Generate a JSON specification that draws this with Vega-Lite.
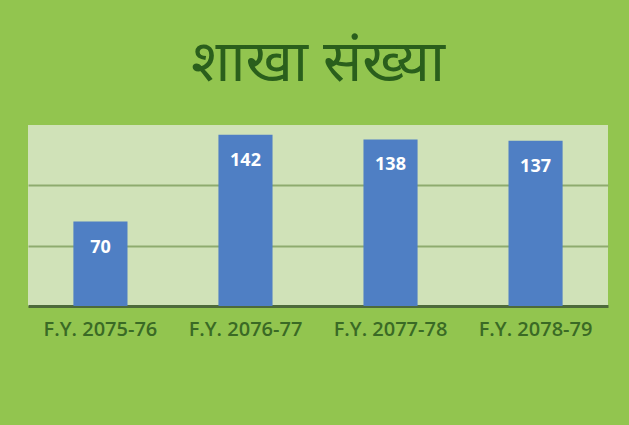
{
  "$schema": "https://vega.github.io/schema/vega-lite/v6.json",
  "autosize": {"type": "none"},
  "width": 580,
  "height": 181,
  "padding": {"left": 28, "top": 125, "right": 21, "bottom": 119},
  "background": "#92c54f",
  "title": {
    "text": "शाखा संख्या",
    "fontSize": 58,
    "font": "Noto Sans",
    "fontWeight": "normal",
    "color": "#2a5f1c",
    "anchor": "middle",
    "offset": 32
  },
  "config": {
    "view": {"fill": "#d0e2b8", "stroke": null}
  },
  "data": {
    "values": [
      {"year": "F.Y. 2075-76", "count": 70},
      {"year": "F.Y. 2076-77", "count": 142},
      {"year": "F.Y. 2077-78", "count": 138},
      {"year": "F.Y. 2078-79", "count": 137}
    ]
  },
  "encoding": {
    "x": {
      "field": "year",
      "type": "nominal",
      "sort": null,
      "scale": {"paddingInner": 0.627, "paddingOuter": 0.313},
      "axis": {
        "title": null,
        "labelAngle": 0,
        "labelFontSize": 20,
        "labelFont": "Open Sans",
        "labelFontWeight": 600,
        "labelColor": "#3a6a25",
        "labelPadding": 13,
        "ticks": false,
        "domainColor": "#4d6a3a",
        "domainWidth": 3
      }
    },
    "y": {
      "field": "count",
      "type": "quantitative",
      "scale": {"domain": [0, 150], "nice": false},
      "axis": {
        "title": null,
        "labels": false,
        "ticks": false,
        "domain": false,
        "values": [50, 100],
        "gridColor": "#8eab6e",
        "gridWidth": 2
      }
    }
  },
  "layer": [
    {"mark": {"type": "bar", "color": "#4f7fc4"}},
    {
      "mark": {
        "type": "text",
        "color": "white",
        "fontWeight": "bold",
        "fontSize": 18,
        "font": "Open Sans",
        "baseline": "middle",
        "dy": 26
      },
      "encoding": {"text": {"field": "count", "type": "quantitative"}}
    }
  ]
}
